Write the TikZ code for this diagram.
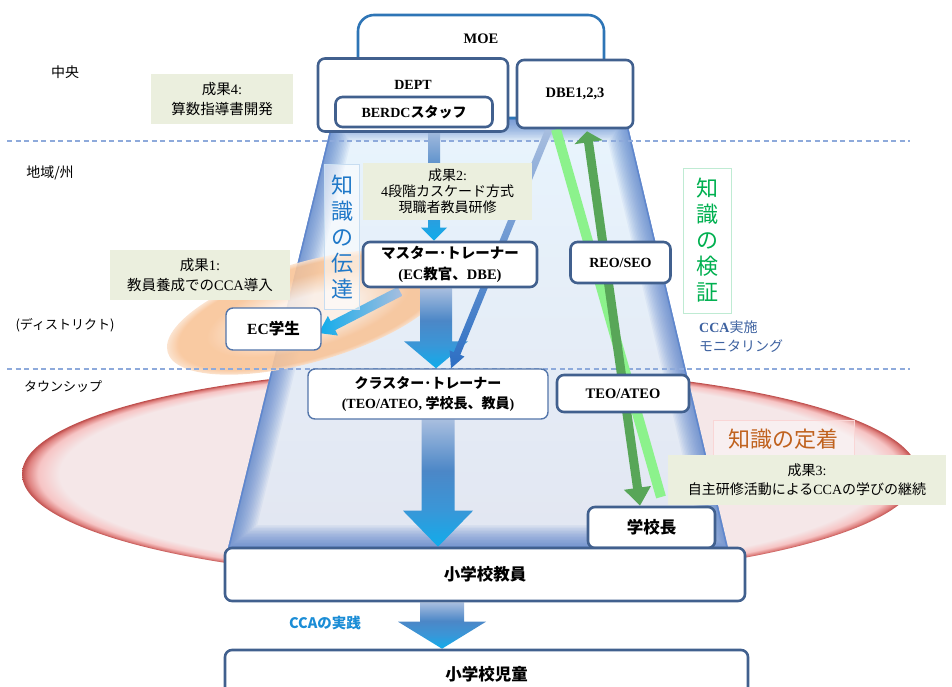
\documentclass[tikz,border=0pt]{standalone}
\usepackage{fontspec}
\setmainfont{Liberation Serif}
\newfontfamily\jp{Noto Sans CJK JP}
\usetikzlibrary{calc,arrows.meta}
\definecolor{boxc}{RGB}{65,96,142}
\definecolor{thinc}{RGB}{84,118,170}
\definecolor{moec}{RGB}{46,117,182}
\definecolor{resc}{RGB}{235,239,222}
\definecolor{dashc}{RGB}{142,170,219}
\definecolor{funtop}{RGB}{232,244,253}
\definecolor{funbot}{RGB}{226,230,241}
\definecolor{fune}{RGB}{68,114,196}
\definecolor{rin}{RGB}{245,231,232}
\definecolor{rmid}{RGB}{246,196,196}
\definecolor{rmidd}{RGB}{222,128,126}
\definecolor{rdark}{RGB}{190,78,76}
\definecolor{oa}{RGB}{253,240,230}
\definecolor{ob}{RGB}{248,196,152}
\definecolor{oc}{RGB}{251,224,202}
\definecolor{lgc}{RGB}{140,242,140}
\definecolor{dgc}{RGB}{88,166,88}
\definecolor{bluet}{RGB}{31,120,200}
\definecolor{greent}{RGB}{0,176,80}
\definecolor{brownt}{RGB}{192,98,30}
\definecolor{monc}{RGB}{62,98,160}
\definecolor{ccac}{RGB}{27,141,214}
\definecolor{acA}{RGB}{16,172,235}
\definecolor{acB}{RGB}{58,150,215}
\definecolor{acC}{RGB}{76,135,199}
\definecolor{acD}{RGB}{168,190,223}
\definecolor{dbl}{RGB}{44,110,195}
\pgfdeclareverticalshading{arrsh}{100bp}{color(0bp)=(acA); color(25bp)=(acA); color(40bp)=(acB); color(55bp)=(acC); color(75bp)=(acD); color(100bp)=(acD)}
\pgfdeclareradialshading{redrim}{\pgfpoint{0bp}{0bp}}{color(0bp)=(rin); color(22.9bp)=(rin); color(24.1bp)=(rmid); color(24.7bp)=(rmidd); color(25bp)=(rdark); color(50bp)=(rdark)}
\pgfdeclareradialshading{orsh}{\pgfpoint{0bp}{0bp}}{color(0bp)=(oa); color(8bp)=(oa); color(18bp)=(ob); color(23bp)=(ob); color(25bp)=(oc); color(50bp)=(oc)}
\pgfdeclarelayer{bgzero}
\pgfdeclarelayer{bgone}
\pgfsetlayers{bgzero,bgone,main}
\newcommand\vblock[5]{%
  \shade[shading=arrsh] ($(#1)+(-#3,0)$) -- ($(#1)+(#3,0)$) -- ($(#2)+(#3,-#5)$) -- ($(#2)+(#4,-#5)$) -- (#2) -- ($(#2)+(-#4,-#5)$) -- ($(#2)+(-#3,-#5)$) -- cycle;}
\newcommand\dblock[6]{%
  \coordinate (hbx) at ($(#2)!#5pt!(#1)$);
  \shade[#6] ($(#1)!#3pt!90:(#2)$) -- ($(hbx)!#3pt!-90:(#1)$) -- ($(hbx)!#4pt!-90:(#1)$) -- (#2) -- ($(hbx)!#4pt!90:(#1)$) -- ($(hbx)!#3pt!90:(#1)$) -- ($(#1)!#3pt!-90:(#2)$) -- cycle;}
\begin{document}
\begin{tikzpicture}[x=1pt,y=-1pt,
  box/.style={draw=boxc, line width=2.6pt, rounded corners=7pt, fill=white, inner sep=0pt, align=center, font=\bfseries\fontsize{14.5}{18}\selectfont},
  thinbox/.style={box, draw=thinc, line width=1.4pt},
  res/.style={fill=resc, inner sep=0pt, align=center, font=\fontsize{14.5}{20}\selectfont},
  side/.style={font=\jp\fontsize{14}{16}\selectfont},
  vlab/.style={draw=#1!25, line width=0.8pt, fill=white, fill opacity=0.55, text opacity=1, text=#1, align=center, inner sep=0pt, font=\jp\fontsize{22}{26}\selectfont}]
\useasboundingbox (0,0) rectangle (952,686);

% ---------- nodes ----------
\node[box, draw=moec, rounded corners=16pt, minimum width=246pt, minimum height=103pt] (moe) at (481,66.5) {};
\node[font=\bfseries\fontsize{14.5}{18}\selectfont] (moetxt) at (481,39) {MOE};
\node[box, minimum width=190pt, minimum height=73pt] (dept) at (413,95) {};
\node[font=\bfseries\fontsize{14}{18}\selectfont] (depttxt) at (413,85) {DEPT};
\node[box, minimum width=157pt, minimum height=30pt, font=\bfseries\fontsize{14}{18}\selectfont] (berdc) at (414,112) {BERDC{\jp スタッフ}};
\node[box, minimum width=116pt, minimum height=68pt] (dbe) at (575,94) {DBE1,2,3};

\node[res, minimum width=142pt, minimum height=50pt] (r4) at (222,99) {{\jp 成果}4:\\{\jp 算数指導書開発}};
\node[side] (l1) at (65,72) {中央};
\node[side] (l2) at (50,173) {地域/州};
\node[side, font=\jp\fontsize{13}{16}\selectfont] (l3) at (65,325) {(ディストリクト)};
\node[side, font=\jp\fontsize{13}{16}\selectfont] (l4) at (63,387) {タウンシップ};

\node[vlab=bluet, minimum width=35pt, minimum height=145pt] (den) at (342,237) {知\\識\\の\\伝\\達};
\node[res, minimum width=169pt, minimum height=57pt, font=\fontsize{14}{16}\selectfont] (r2) at (447.5,191.5) {{\jp 成果}2:\\4{\jp 段階カスケード方式}\\{\jp 現職者教員研修}};
\node[box, minimum width=174pt, minimum height=45pt, font=\bfseries\fontsize{14.5}{21}\selectfont] (mt) at (450,264.5) {{\jp マスター･トレーナー}\\(EC{\jp 教官、}DBE)};
\node[thinbox, minimum width=95pt, minimum height=42pt, font=\bfseries\fontsize{15.5}{18}\selectfont] (ec) at (273.5,329) {EC{\jp 学生}};
\node[res, minimum width=180pt, minimum height=50pt] (r1) at (200,275) {{\jp 成果}1:\\{\jp 教員養成での}CCA{\jp 導入}};
\node[thinbox, minimum width=240pt, minimum height=50pt, font=\bfseries\fontsize{14}{20}\selectfont] (ct) at (428,394) {{\jp クラスター･トレーナー}\\(TEO/ATEO,\ {\jp 学校長、教員})};
\node[box, minimum width=100pt, minimum height=41pt, font=\bfseries\fontsize{14}{18}\selectfont] (reo) at (620.5,262.5) {REO/SEO};
\node[box, minimum width=132pt, minimum height=37pt, font=\bfseries\fontsize{14.5}{18}\selectfont] (teo) at (623,393.5) {TEO/ATEO};
\node[vlab=greent, minimum width=48pt, minimum height=145pt] (ken) at (707,240.5) {知\\識\\の\\検\\証};
\node[anchor=west, align=left, text=monc, inner sep=0pt, font=\fontsize{14}{19}\selectfont] (mon) at (699,337) {\textbf{CCA}{\jp 実施}\\{\jp モニタリング}};
\node[draw=rmid!70, line width=0.8pt, fill=white, fill opacity=0.35, text opacity=1, text=brownt, inner sep=0pt, minimum width=141pt, minimum height=38pt, font=\jp\fontsize{22}{26}\selectfont] (tei) at (783.5,439) {知識の定着};
\node[res, minimum width=278pt, minimum height=50pt, font=\fontsize{14}{19}\selectfont] (r3) at (807,480) {{\jp 成果}3:\\{\jp 自主研修活動による}CCA{\jp の学びの継続}};
\node[box, minimum width=127pt, minimum height=41pt, font=\jp\bfseries\fontsize{16.5}{18}\selectfont] (kc) at (651.5,527.5) {学校長};
\node[box, minimum width=520pt, minimum height=53pt, font=\jp\bfseries\fontsize{16.5}{18}\selectfont] (sk) at (485,574.5) {小学校教員};
\node[box, minimum width=523pt, minimum height=60pt] (sj) at (486.5,680) {};
\node[font=\jp\bfseries\fontsize{16.5}{18}\selectfont] (sjtxt) at (486.5,674) {小学校児童};
\node[text=ccac, font=\jp\bfseries\fontsize{14.5}{18}\selectfont] (cca) at (325,623) {CCAの実践};

% ---------- background: ellipses, funnel, dashed lines ----------
\begin{pgfonlayer}{bgzero}
  \shade[shading=redrim] (470,474) ellipse [x radius=448pt, y radius=106pt];
  \coordinate (f1) at (333,118);
  \coordinate (f2) at (626,118);
  \coordinate (f3) at (728,548);
  \coordinate (f4) at (228,548);
  \shade[top color=funtop, bottom color=funbot] (f1) -- (f2) -- (f3) -- (f4) -- cycle;
  \begin{scope}
    \clip (f1) -- (f2) -- (f3) -- (f4) -- cycle;
    \foreach \w in {46,43,...,4}
      \draw[fune, opacity=0.065, line width=\w pt, line join=round] (f1) -- (f2) -- (f3) -- (f4) -- cycle;
    \draw[fune!85, line width=3pt, line join=round] (f1) -- (f2) -- (f3) -- (f4) -- cycle;
  \end{scope}
  \begin{scope}[transform canvas={rotate around={16:(308,312)}}]
    \shade[shading=orsh, opacity=0.9] (308,312) ellipse [x radius=146pt, y radius=50pt];
  \end{scope}
  \draw[dashc, line width=1.2pt, dash pattern=on 5pt off 3.5pt] (7,141) -- (910,141);
  \draw[dashc, line width=1.2pt, dash pattern=on 5pt off 3.5pt] (7,369) -- (910,369);
\end{pgfonlayer}

% ---------- arrows ----------
\begin{pgfonlayer}{bgone}
  % BERDC -> master trainer
  \coordinate (a1s) at ($(berdc.south)+(20,0)$);
  \coordinate (a1t) at (a1s |- mt.north);
  \vblock{a1s}{a1t}{6}{13}{13}
  % master trainer -> cluster trainer
  \coordinate (a2s) at ($(mt.south)+(-14,0)$);
  \coordinate (a2t) at (a2s |- ct.north);
  \vblock{a2s}{a2t}{16}{32}{27}
  % cluster trainer -> primary teachers
  \coordinate (a3s) at ($(ct.south)+(10,0)$);
  \coordinate (a3t) at (a3s |- sk.north);
  \vblock{a3s}{a3t}{16.5}{35}{36}
  % primary teachers -> pupils
  \coordinate (a4s) at ($(sk.south)+(-43,0)$);
  \coordinate (a4t) at (a4s |- sj.north);
  \vblock{a4s}{a4t}{22}{44}{27}
  % master trainer -> EC students
  \coordinate (a5s) at ($(mt.south)+(-50,3)$);
  \coordinate (a5t) at ($(ec.east)+(-3,4)$);
  \dblock{a5s}{a5t}{5}{11}{16}{left color=acA, right color=acD}
  % DBE -> cluster trainer
  \coordinate (a6s) at ($(dbe.south)+(-26,0)$);
  \coordinate (a6t) at ($(ct.north)+(23,0)$);
  \dblock{a6s}{a6t}{3.5}{8}{16}{top color=acD, bottom color=dbl}
  % verification arrows
  \coordinate (lgend) at (661,497);
  \draw[lgc, line width=10pt] ($(dbe.south)+(-19,0)$) -- (lgend);
  \draw[dgc, line width=9pt, {Triangle[width=28pt,length=11pt]}-{Triangle[width=26pt,length=18pt]}] ($(dbe.south)+(12,2)$) -- ($(kc.north)+(-11.5,0)$);
\end{pgfonlayer}
\end{tikzpicture}
\end{document}
